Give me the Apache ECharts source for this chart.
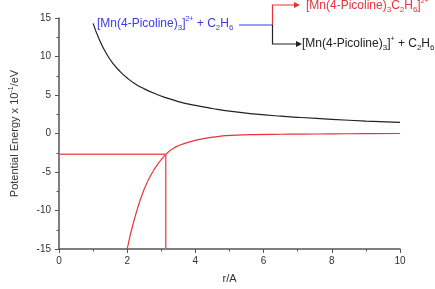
<!DOCTYPE html>
<html>
<head>
<meta charset="utf-8">
<script src="https://cdn.jsdelivr.net/npm/echarts@6/dist/echarts.min.js"></script>
<style>
html,body{margin:0;padding:0;background:#fff;}
#main{width:435px;height:289px;}
</style>
</head>
<body>
<div id="main"></div>
<script>
// repulsive curve, [Mn(4-Picoline)3]2+ + C2H6 (r/A, E x 10^-1 eV)
var repulsiveR = [1.0, 1.2, 1.4, 1.6, 1.8, 2.0, 2.25, 2.5, 2.8, 3.1, 3.5, 4.0, 4.5, 5.0, 5.7, 6.5, 7.1, 8.0, 9.0, 10.0];
var repulsiveE = [14.3, 12.0, 10.3, 9.0, 8.0, 7.2, 6.4, 5.8, 5.2, 4.7, 4.15, 3.65, 3.25, 2.9, 2.55, 2.25, 2.08, 1.84, 1.62, 1.45];
// attractive curve
var attractR = [2.0, 2.2, 2.5, 2.8, 3.13, 3.4, 3.76, 4.2, 4.73, 5.2, 5.7, 6.5, 7.1, 8.0, 9.0, 10.0];
var attractE = [-15, -11.3, -7.2, -4.6, -2.7, -1.8, -1.18, -0.7, -0.35, -0.22, -0.15, -0.1, -0.08, -0.05, -0.02, 0];
// crossing point guide
var crossR = [0, 3.13, 3.13];
var crossE = [-2.7, -2.7, -15];

function pairs(xs, ys){
	var out = [];
	for(let i = 0; i < xs.length; i++){
		out.push([xs[i], ys[i]]);
	}
	return out;
}

var myChart = echarts.init(document.getElementById('main'), null, {renderer: 'canvas'});

var FONT = 'Liberation Sans, Arial, sans-serif';
var red = '#e8323c';
var blue = '#3b3be6';

function richFor(color){
	return {
		s: {fontSize: 8, fontFamily: FONT, fill: color, padding: [9, 0, 0, 0], lineHeight: 14},
		p: {fontSize: 7, fontFamily: FONT, fill: color, padding: [0, 0, 8, 0], lineHeight: 14},
		n: {fontSize: 12, fontFamily: FONT, fill: color, lineHeight: 14}
	};
}

var option = {
	backgroundColor: '#fff',
	animation: false,
	grid: {left: 53, right: 35, top: 18, bottom: 36},
	xAxis: {
		type: 'value',
		min: 0,
		max: 10,
		interval: 2,
		name: 'r/A',
		nameLocation: 'middle',
		nameGap: 24,
		nameTextStyle: {fontFamily: FONT, fontSize: 11, color: '#333'},
		axisLine: {onZero: false, lineStyle: {color: '#555', width: 1.5}},
		axisTick: {show: true, length: 4, lineStyle: {color: '#555'}},
		minorTick: {show: true, splitNumber: 2, length: 2.5, lineStyle: {color: '#555'}},
		axisLabel: {fontFamily: FONT, fontSize: 10, color: '#333', margin: 7},
		splitLine: {show: false}
	},
	yAxis: {
		type: 'value',
		min: -15,
		max: 15,
		interval: 5,
		name: 'Potential Energy x 10{p|-1}/eV',
		nameLocation: 'middle',
		nameGap: 38,
		nameRotate: 90,
		nameTextStyle: {
			fontFamily: FONT, fontSize: 11, color: '#333',
			rich: {p: {fontFamily: FONT, fontSize: 7, color: '#333', padding: [0, 0, 6, 0]}}
		},
		axisLine: {onZero: false, lineStyle: {color: '#555', width: 1.5}},
		axisTick: {show: true, length: 4, lineStyle: {color: '#555'}},
		minorTick: {show: true, splitNumber: 2, length: 2.5, lineStyle: {color: '#555'}},
		axisLabel: {fontFamily: FONT, fontSize: 10, color: '#333', margin: 8},
		splitLine: {show: false}
	},
	series: [
		{
			name: 'repulsive',
			type: 'line',
			smooth: true,
			symbol: 'none',
			lineStyle: {color: '#222', width: 1.2},
			data: pairs(repulsiveR, repulsiveE)
		},
		{
			name: 'attractive',
			type: 'line',
			smooth: true,
			symbol: 'none',
			lineStyle: {color: red, width: 1.2},
			data: pairs(attractR, attractE)
		},
		{
			name: 'crossing',
			type: 'line',
			symbol: 'none',
			lineStyle: {color: '#ee5a60', width: 1.5},
			data: pairs(crossR, crossE)
		}
	],
	graphic: [
		{
			type: 'text', left: 97, top: 15,
			style: {
				text: '{n|[Mn(4-Picoline)}{s|3}{n|]}{p|2+}{n| + C}{s|2}{n|H}{s|6}',
				rich: richFor(blue)
			}
		},
		{type: 'line', shape: {x1: 239, y1: 25, x2: 273, y2: 25}, style: {stroke: blue, lineWidth: 1.2}},
		{type: 'polyline', shape: {points: [[272.5, 25], [272.5, 5], [295, 5]]}, style: {stroke: red, lineWidth: 1.2, fill: null}},
		{type: 'polygon', shape: {points: [[294, 2], [300, 5], [294, 8]]}, style: {fill: red}},
		{type: 'polyline', shape: {points: [[272.5, 25], [272.5, 44], [297, 44]]}, style: {stroke: '#222', lineWidth: 1.2, fill: null}},
		{type: 'polygon', shape: {points: [[296, 41], [302, 44], [296, 47]]}, style: {fill: '#222'}},
		{
			type: 'text', left: 306, top: -3,
			style: {
				text: '{n|[Mn(4-Picoline)}{s|3}{n|C}{s|2}{n|H}{s|6}{n|]}{p|2+}',
				rich: richFor(red)
			}
		},
		{
			type: 'text', left: 302, top: 35,
			style: {
				text: '{n|[Mn(4-Picoline)}{s|3}{n|]}{p|+}{n| + C}{s|2}{n|H}{s|6}',
				rich: richFor('#222')
			}
		}
	]
};

myChart.setOption(option);
</script>
</body>
</html>
